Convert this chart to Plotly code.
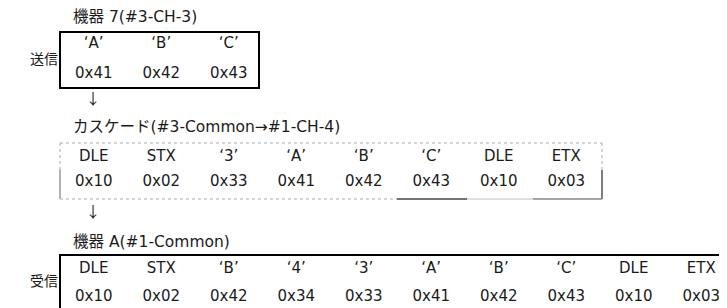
import plotly.graph_objects as go

# ---- data ----
send_title = "機器 7(#3-CH-3)"
send_chars = ["‘A’", "‘B’", "‘C’"]
send_hex = ["0x41", "0x42", "0x43"]

casc_title = "カスケード(#3-Common→#1-CH-4)"
casc_chars = ["DLE", "STX", "‘3’", "‘A’", "‘B’", "‘C’", "DLE", "ETX"]
casc_hex = ["0x10", "0x02", "0x33", "0x41", "0x42", "0x43", "0x10", "0x03"]

recv_title = "機器 A(#1-Common)"
recv_chars = ["DLE", "STX", "‘B’", "‘4’", "‘3’", "‘A’", "‘B’", "‘C’", "DLE", "ETX"]
recv_hex = ["0x10", "0x02", "0x42", "0x34", "0x33", "0x41", "0x42", "0x43", "0x10", "0x03"]

side_labels = ["送信", "受信"]

W, H = 727, 308
OFF = 8  # page body margin compensation
FONT = "DejaVu Sans, Noto Sans CJK JP, sans-serif"
CJK = "Noto Sans CJK JP, DejaVu Sans, sans-serif"
TXT = "#1a1a1a"
FS = 15

X0 = 60.0
COLW = 67.5


def col_x(n):
    return [X0 + COLW * (i + 0.5) for i in range(n)]


fig = go.Figure()


def add_text(xs, ys, texts, pos="middle center", size=FS, family=FONT):
    fig.add_trace(go.Scatter(
        x=xs, y=ys, text=texts, mode="text", textposition=pos,
        textfont=dict(family=family, size=size, color=TXT),
        hoverinfo="skip", showlegend=False, cliponaxis=False))


# rows for each table
add_text(col_x(len(send_chars)), [44] * len(send_chars), send_chars)
add_text(col_x(len(send_hex)), [74] * len(send_hex), send_hex)
add_text(col_x(len(casc_chars)), [157] * len(casc_chars), casc_chars)
add_text(col_x(len(casc_hex)), [182] * len(casc_hex), casc_hex)
add_text(col_x(len(recv_chars)), [269] * len(recv_chars), recv_chars)
add_text(col_x(len(recv_hex)), [297] * len(recv_hex), recv_hex)

# titles
add_text([73, 73, 73], [18, 128, 243], [send_title, casc_title, recv_title], pos="middle right", size=15.5)
# side labels
add_text([44, 44], [60, 282], side_labels, size=14, family=CJK)
# arrows
add_text([93, 93], [100, 213], ["↓", "↓"], size=15, family=CJK)

shapes = []
# send box (black)
shapes.append(dict(type="rect", x0=60, x1=259, y0=32, y1=88,
                   line=dict(color="black", width=2)))
# cascade box (grey, mixed styles)
G = "#c8c8c8"
shapes += [
    dict(type="line", x0=60, x1=602, y0=143, y1=143, line=dict(color=G, width=1.5, dash="dot")),
    dict(type="line", x0=60, x1=60, y0=143, y1=170, line=dict(color=G, width=1.5, dash="dot")),
    dict(type="line", x0=60, x1=60, y0=170, y1=199, line=dict(color="#999", width=1.5)),
    dict(type="line", x0=602, x1=602, y0=143, y1=170, line=dict(color=G, width=1.5, dash="dot")),
    dict(type="line", x0=602, x1=602, y0=170, y1=199, line=dict(color="#555", width=1.5)),
    dict(type="line", x0=60, x1=397, y0=199, y1=199, line=dict(color=G, width=1.5, dash="dot")),
    dict(type="line", x0=397, x1=467, y0=199, y1=199, line=dict(color="#444", width=1.5)),
    dict(type="line", x0=467, x1=533, y0=199, y1=199, line=dict(color="#d4d4d4", width=1.5)),
    dict(type="line", x0=533, x1=602, y0=199, y1=199, line=dict(color="#888", width=1.5)),
]
# receive box (black, runs off the right/bottom edge)
shapes += [
    dict(type="line", x0=60, x1=W + 20, y0=255, y1=255, line=dict(color="black", width=2)),
    dict(type="line", x0=60, x1=60, y0=254, y1=H + 20, line=dict(color="black", width=2)),
]

fig.update_layout(
    width=W, height=H,
    margin=dict(l=0, r=0, t=0, b=0),
    paper_bgcolor="white", plot_bgcolor="white",
    xaxis=dict(range=[OFF, W + OFF], visible=False, fixedrange=True),
    yaxis=dict(range=[H + OFF, OFF], visible=False, fixedrange=True),
    shapes=shapes,
    showlegend=False,
)

fig.write_html("out.html")
